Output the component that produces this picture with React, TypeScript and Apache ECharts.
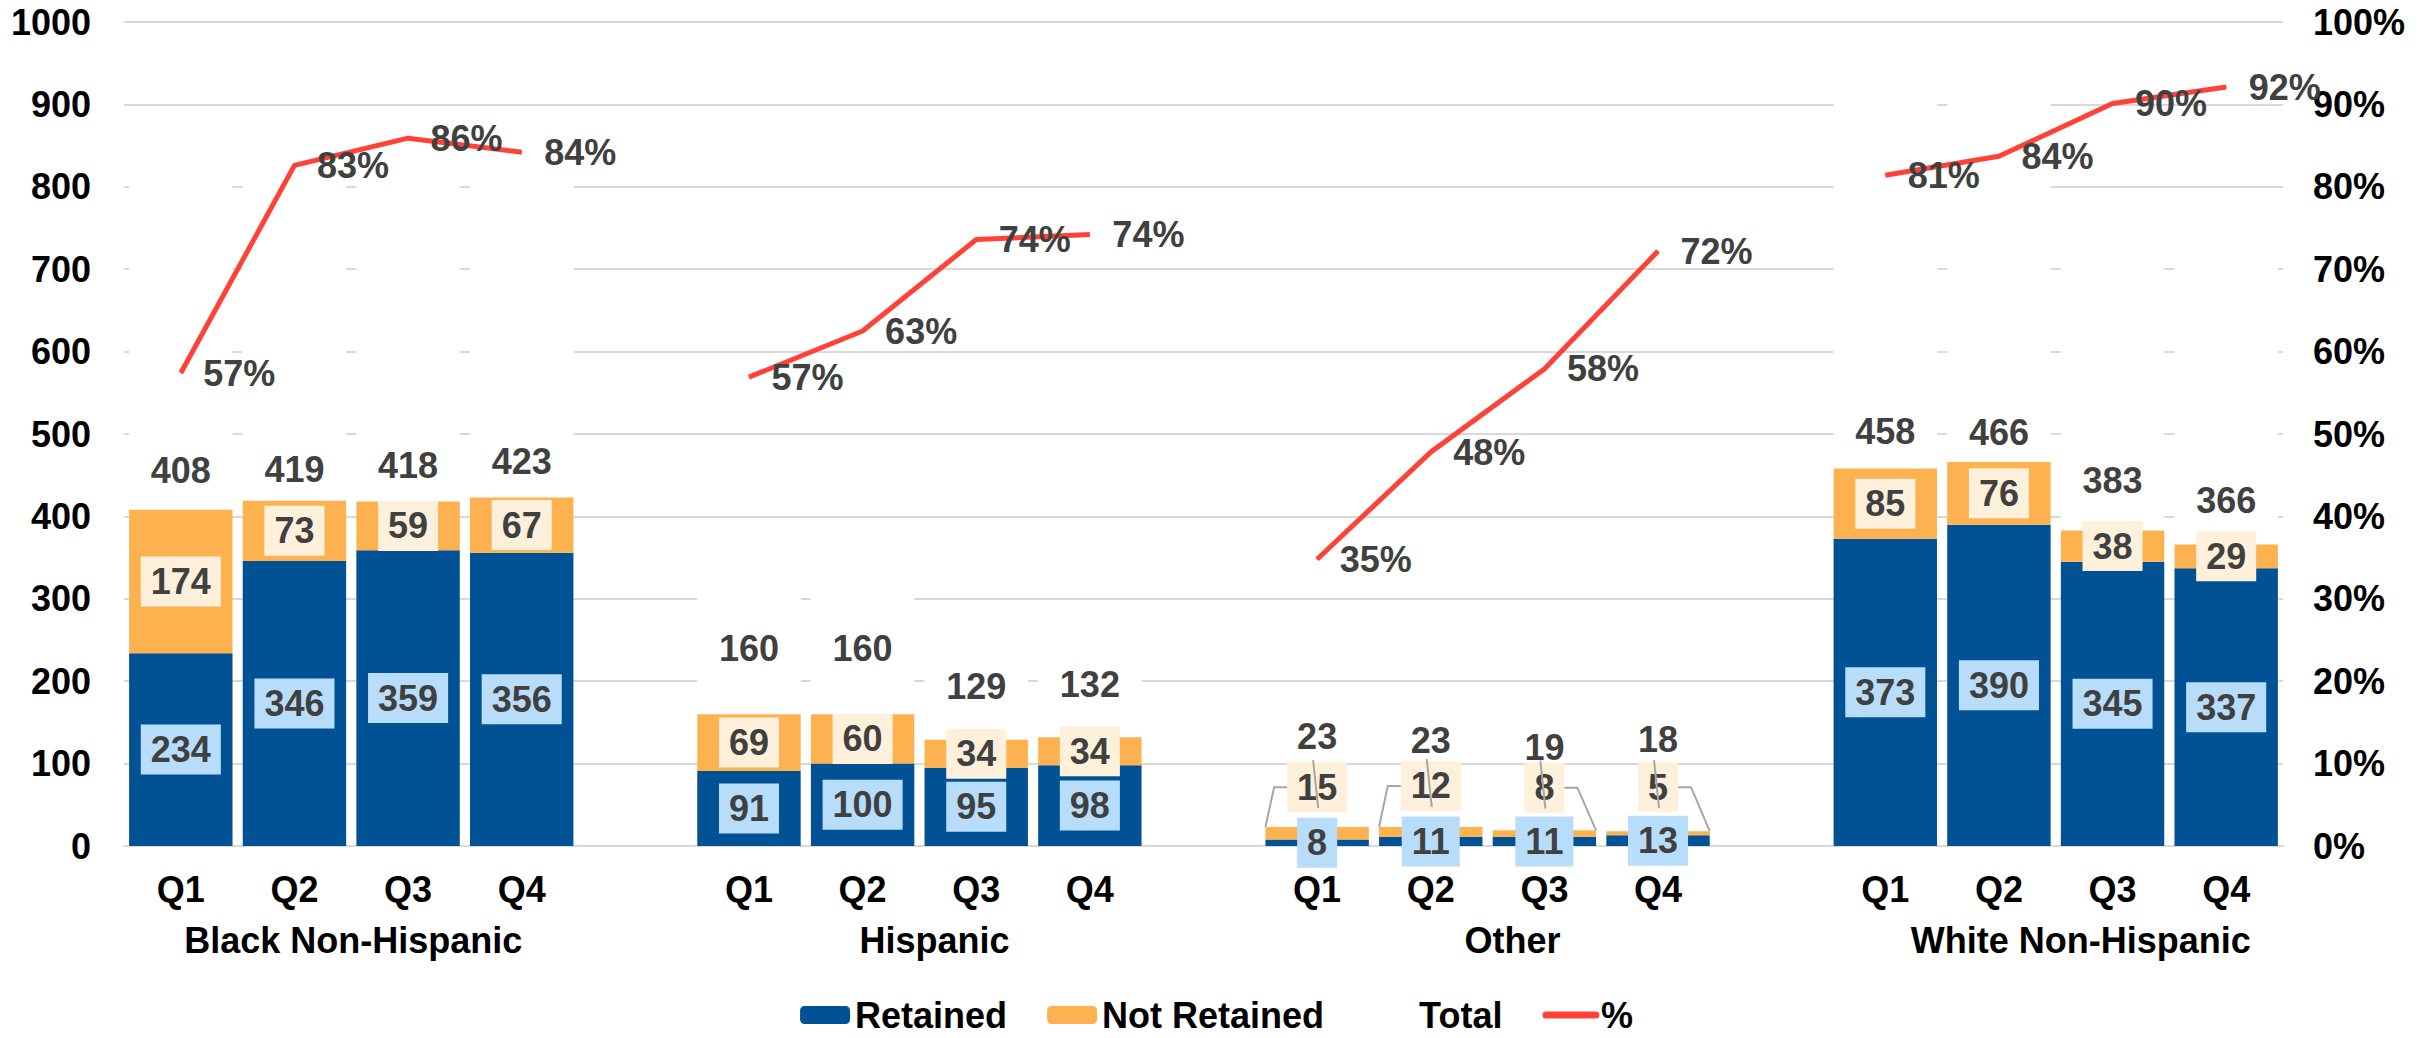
import React, { useEffect, useRef } from 'react';
import * as echarts from 'echarts';

// ---- data ----
const groupNames = ['Black Non-Hispanic', 'Hispanic', 'Other', 'White Non-Hispanic'];
const quarters = ['Q1', 'Q2', 'Q3', 'Q4'];
const retained = [
  [234, 346, 359, 356],
  [91, 100, 95, 98],
  [8, 11, 11, 13],
  [373, 390, 345, 337],
];
const notRetained = [
  [174, 73, 59, 67],
  [69, 60, 34, 34],
  [15, 12, 8, 5],
  [85, 76, 38, 29],
];
const totals = [
  [408, 419, 418, 423],
  [160, 160, 129, 132],
  [23, 23, 19, 18],
  [458, 466, 383, 366],
];
const retainedPct = [
  [57.4, 82.6, 85.9, 84.2],
  [56.9, 62.5, 73.6, 74.2],
  [34.8, 47.8, 57.9, 72.2],
  [81.4, 83.7, 90.1, 92.1],
];
const countAxis = { min: 0, max: 1000, interval: 100 };
const pctAxis = { min: 0, max: 100, interval: 10 };

// ---- layout helpers (not data) ----
const totalLabelLift = [
  [39, 31, 36, 36],
  [66, 66, 53, 53],
  [91, 87, 83, 92],
  [37, 30, 50, 44],
];
const groupLabelShift = [2, 15, 25, 25];
const calloutGroup = 2;
const calloutDy = -46;
const calloutSide = [-1, -1, 1, 1];

const FONT = 'Liberation Sans, Arial, sans-serif';
const BLUE = '#015294';
const ORANGE = '#FDB14F';
const RED = '#FF4136';
const LABEL_GRAY = '#404040';
const LEADER = '#A6A6A6';
const BAR_FRACTION = 0.91;

function interleave(groups: any[][], blank: any): any[] {
  const out: any[] = [];
  groups.forEach((g, gi) => {
    if (gi > 0) out.push(blank);
    out.push(...g);
  });
  return out;
}

const categories = interleave(groupNames.map(() => quarters), '');
const groupCenter: Record<number, number> = {};
groupNames.forEach((_, gi) => {
  groupCenter[gi * 5 + 2] = gi;
});

// leader-line anchors for the callout group: [category index, stack top, segment middle, value, quarter]
const calloutData = notRetained[calloutGroup].map((nr, qi) => {
  const r = retained[calloutGroup][qi];
  return [calloutGroup * 5 + qi, r + nr, r + nr / 2, nr, qi];
});

export default function App() {
  const ref = useRef<HTMLDivElement>(null);
  useEffect(() => {
    if (!ref.current) return;
    const chart = echarts.init(ref.current, undefined, { renderer: 'svg' });
    const boldText = { color: '#000', fontSize: 36, fontWeight: 'bold', fontFamily: FONT };
    const boxLabel = (bg: string) => ({
      show: true,
      position: 'inside',
      color: LABEL_GRAY,
      fontSize: 36,
      fontWeight: 'bold',
      fontFamily: FONT,
      backgroundColor: bg,
      padding: [7, 10],
    });
    const rich: Record<string, any> = {};
    groupLabelShift.forEach((s, gi) => {
      rich['g' + gi] = { ...boldText, padding: [0, 0, 0, s * 2] };
    });
    const option: any = {
      animation: false,
      textStyle: { fontFamily: FONT },
      grid: { left: 124, right: 150, top: 22, bottom: 192, containLabel: false },
      legend: {
        top: 992,
        left: 'center',
        itemWidth: 50,
        itemHeight: 18,
        itemGap: 40,
        textStyle: { ...boldText },
        data: [
          { name: 'Retained' },
          { name: 'Not Retained' },
          { name: 'Total' },
          { name: '%', itemStyle: { opacity: 0 }, lineStyle: { width: 7, cap: 'round' } },
        ],
      },
      xAxis: [
        {
          type: 'category',
          data: categories,
          position: 'bottom',
          axisLine: { lineStyle: { color: '#D9D9D9', width: 2 } },
          axisTick: { show: false },
          axisLabel: { ...boldText, margin: 25, interval: 0 },
        },
        {
          type: 'value',
          min: 0,
          max: categories.length,
          interval: 1,
          position: 'bottom',
          axisLine: { show: false },
          axisTick: { show: false },
          splitLine: { show: false },
          axisLabel: {
            ...boldText,
            margin: 76,
            rich,
            formatter: (v: number) => {
              const gi = groupCenter[Math.round(v)];
              return gi === undefined ? '' : `{g${gi}|${groupNames[gi]}}`;
            },
          },
        },
      ],
      yAxis: [
        {
          type: 'value',
          ...countAxis,
          axisLine: { show: false },
          axisTick: { show: false },
          splitLine: { lineStyle: { color: '#D9D9D9', width: 2 } },
          axisLabel: { ...boldText, margin: 33, formatter: (v: number) => String(v) },
        },
        {
          type: 'value',
          position: 'right',
          ...pctAxis,
          axisLine: { show: false },
          axisTick: { show: false },
          splitLine: { show: false },
          axisLabel: { ...boldText, margin: 30, formatter: '{value}%' },
        },
      ],
      series: [
        {
          name: 'Retained',
          type: 'bar',
          stack: 'all',
          barCategoryGap: '9%',
          itemStyle: { color: BLUE },
          label: boxLabel('#B7DDFB'),
          data: interleave(retained, '-'),
        },
        {
          name: 'Not Retained',
          type: 'bar',
          stack: 'all',
          itemStyle: { color: ORANGE },
          label: boxLabel('#FFF0DB'),
          labelLayout: (p: any) =>
            Math.floor(p.dataIndex / 5) === calloutGroup ? { dy: calloutDy } : {},
          data: interleave(notRetained, '-'),
        },
        {
          name: 'Total',
          type: 'bar',
          stack: 'all',
          z: 1,
          itemStyle: { color: '#FFFFFF' },
          label: {
            show: true,
            position: 'insideBottom',
            color: LABEL_GRAY,
            fontSize: 36,
            fontWeight: 'bold',
            fontFamily: FONT,
          },
          data: interleave(
            totals.map((g, gi) =>
              g.map((v, qi) => ({ value: v, label: { distance: totalLabelLift[gi][qi] - 18 } }))
            ),
            '-'
          ),
        },
        {
          name: 'leaders',
          type: 'custom',
          z: 4,
          silent: true,
          xAxisIndex: 0,
          yAxisIndex: 0,
          data: calloutData,
          renderItem: (params: any, api: any) => {
            const idx = api.value(0);
            const top = api.coord([idx, api.value(1)]);
            const mid = api.coord([idx, api.value(2)]);
            const digits = String(api.value(3)).length;
            const side = calloutSide[api.value(4)];
            const bw = api.size([1, 0])[0] * BAR_FRACTION;
            const halfW = (digits * 0.556 * 36 + 20) / 2;
            const halfH = 25;
            const cx = mid[0];
            const cy = mid[1] + calloutDy;
            return {
              type: 'group',
              children: [
                {
                  type: 'polyline',
                  shape: {
                    points: [
                      [cx + side * halfW, cy],
                      [cx + side * (halfW + 13), cy],
                      [cx + (side * bw) / 2, top[1]],
                    ],
                  },
                  style: { stroke: LEADER, lineWidth: 2, fill: 'none' },
                },
                {
                  type: 'line',
                  shape: { x1: cx - 4, y1: cy - halfH - 2, x2: cx + 1, y2: cy + halfH - 4 },
                  style: { stroke: LEADER, lineWidth: 2 },
                },
              ],
            };
          },
        },
        {
          name: '%',
          type: 'line',
          yAxisIndex: 1,
          symbol: 'circle',
          symbolSize: 1,
          connectNulls: false,
          itemStyle: { color: RED },
          lineStyle: { color: RED, width: 5 },
          label: {
            show: true,
            position: 'right',
            distance: 22,
            color: LABEL_GRAY,
            fontSize: 36,
            fontWeight: 'bold',
            fontFamily: FONT,
            formatter: (p: any) => Math.round(p.value) + '%',
          },
          data: interleave(retainedPct, null),
        },
      ],
    };
    chart.setOption(option);
    return () => chart.dispose();
  }, []);
  return (
    <div
      ref={ref}
      style={{ position: 'fixed', left: 0, top: 0, width: '2433px', height: '1038px', background: '#fff' }}
    />
  );
}
